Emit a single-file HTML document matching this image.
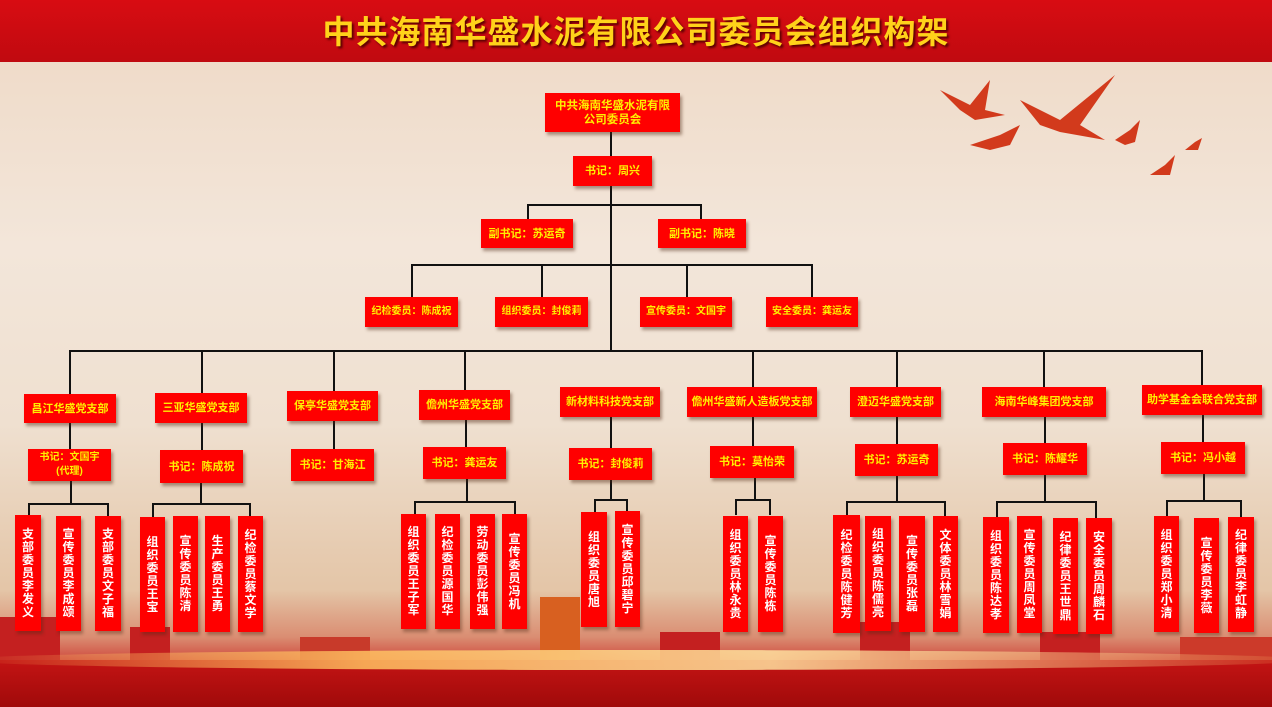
<!DOCTYPE html>
<html><head><meta charset="utf-8"><style>
*{margin:0;padding:0;box-sizing:border-box}
body{width:1272px;height:707px;overflow:hidden;position:relative;font-family:"Liberation Sans","Noto Sans CJK SC",sans-serif;background:linear-gradient(180deg,#eed8c4 0%,#f3e6da 35%,#efe0d0 60%,#e6cbb0 78%,#ddb58e 100%)}
.title{position:absolute;left:0;top:0;width:1272px;height:62px;background:linear-gradient(180deg,#d80c12,#c00a10);color:#ffd21a;font-size:32px;font-weight:bold;text-align:center;line-height:64px;letter-spacing:1px;text-shadow:2px 2px 2px #5a0000}
.b{position:absolute;background:#ff0000;color:#ffef00;font-size:11px;font-weight:bold;display:flex;align-items:center;justify-content:center;text-align:center;line-height:14px;box-shadow:2px 3px 3px rgba(80,40,20,.45)}
.m{position:absolute;background:#ff0000;color:#fff;font-size:12px;font-weight:bold;display:flex;align-items:center;justify-content:center;text-align:center;line-height:13px;box-shadow:2px 3px 3px rgba(80,40,20,.4);padding:0 6px;word-break:break-all}
.h{position:absolute;height:2px;background:#111}
.v{position:absolute;width:2px;background:#111}
.c{position:absolute;bottom:0;background:#c42020}
</style></head><body>
<div class="title">中共海南华盛水泥有限公司委员会组织构架</div>
<!-- background decoration -->
<div style="position:absolute;left:0;top:590px;width:1272px;height:117px;background:linear-gradient(180deg,rgba(205,60,40,0),rgba(205,50,35,.35) 40%,#c81a1a 75%,#b01010)"></div>
<div class="c" style="left:0;width:60px;height:90px"></div>
<div class="c" style="left:130px;width:40px;height:80px"></div>
<div class="c" style="left:300px;width:70px;height:70px;background:#c83a2a"></div>
<div class="c" style="left:540px;width:40px;height:110px;background:#d86020"></div>
<div class="c" style="left:660px;width:60px;height:75px"></div>
<div class="c" style="left:860px;width:50px;height:85px"></div>
<div class="c" style="left:1040px;width:60px;height:75px"></div>
<div class="c" style="left:1180px;width:92px;height:70px;background:#cc3a2a"></div>
<div style="position:absolute;left:0;top:660px;width:1272px;height:47px;background:linear-gradient(180deg,#c41414,#a00a0a)"></div>
<div style="position:absolute;left:-40px;top:650px;width:1350px;height:20px;background:linear-gradient(90deg,rgba(255,200,80,0),#ffc060 30%,#ffe2a0 60%,rgba(255,200,80,.1));border-radius:50%;opacity:.85"></div>
<svg style="position:absolute;left:930px;top:70px" width="280" height="120" viewBox="0 0 280 120">
<g fill="#d23a1c"><path d="M10 20 L40 35 L60 10 L55 40 L75 45 L45 50 L30 40Z"/><path d="M90 30 L130 50 L185 5 L150 55 L175 70 L130 62 L110 55Z"/><path d="M40 75 L70 65 L90 55 L80 75 L60 80Z"/><path d="M185 70 L200 60 L210 50 L205 72 L195 75Z"/><path d="M220 105 L235 95 L245 85 L240 105Z"/><path d="M255 80 L265 72 L272 68 L268 80Z"/></g></svg>

<!-- top lines -->
<div class="v" style="left:610px;top:132px;height:220px"></div>
<div class="h" style="left:527px;top:204px;width:175px"></div>
<div class="v" style="left:527px;top:204px;height:16px"></div>
<div class="v" style="left:700px;top:204px;height:16px"></div>
<div class="h" style="left:411px;top:264px;width:402px"></div>
<div class="v" style="left:411px;top:264px;height:34px"></div>
<div class="v" style="left:541px;top:264px;height:34px"></div>
<div class="v" style="left:686px;top:264px;height:34px"></div>
<div class="v" style="left:811px;top:264px;height:34px"></div>
<div class="h" style="left:69px;top:350px;width:1134px"></div>

<div class="b" style="left:545px;top:93px;width:135px;height:39px;font-size:11.5px">中共海南华盛水泥有限<br>公司委员会</div>
<div class="b" style="left:573px;top:156px;width:79px;height:30px">书记：周兴</div>
<div class="b" style="left:481px;top:219px;width:92px;height:29px">副书记：苏运奇</div>
<div class="b" style="left:658px;top:219px;width:88px;height:29px">副书记：陈晓</div>
<div class="b" style="left:365px;top:297px;width:93px;height:30px;font-size:10px">纪检委员：陈成祝</div>
<div class="b" style="left:495px;top:297px;width:93px;height:30px;font-size:10px">组织委员：封俊莉</div>
<div class="b" style="left:640px;top:297px;width:92px;height:30px;font-size:10px">宣传委员：文国宇</div>
<div class="b" style="left:766px;top:297px;width:92px;height:30px;font-size:10px">安全委员：龚运友</div>

<div class="v" style="left:69px;top:350px;height:44px"></div>
<div class="v" style="left:201px;top:350px;height:44px"></div>
<div class="v" style="left:333px;top:350px;height:44px"></div>
<div class="v" style="left:464px;top:350px;height:44px"></div>
<div class="v" style="left:752px;top:350px;height:38px"></div>
<div class="v" style="left:896px;top:350px;height:38px"></div>
<div class="v" style="left:1043px;top:350px;height:38px"></div>
<div class="v" style="left:1201px;top:350px;height:36px"></div>

<div class="v" style="left:69px;top:423px;height:27px"></div>
<div class="v" style="left:201px;top:423px;height:28px"></div>
<div class="v" style="left:333px;top:420px;height:30px"></div>
<div class="v" style="left:465px;top:420px;height:28px"></div>
<div class="v" style="left:610px;top:417px;height:32px"></div>
<div class="v" style="left:752px;top:417px;height:30px"></div>
<div class="v" style="left:896px;top:417px;height:28px"></div>
<div class="v" style="left:1044px;top:417px;height:27px"></div>
<div class="v" style="left:1202px;top:415px;height:28px"></div>

<div class="v" style="left:70px;top:481px;height:22px"></div><div class="h" style="left:28px;top:503px;width:81px"></div>
<div class="v" style="left:28px;top:503px;height:13px"></div><div class="v" style="left:107px;top:503px;height:13px"></div>
<div class="v" style="left:200px;top:483px;height:21px"></div><div class="h" style="left:152px;top:503px;width:99px"></div>
<div class="v" style="left:152px;top:503px;height:14px"></div><div class="v" style="left:249px;top:503px;height:14px"></div>
<div class="v" style="left:466px;top:479px;height:23px"></div><div class="h" style="left:414px;top:501px;width:102px"></div>
<div class="v" style="left:414px;top:501px;height:14px"></div><div class="v" style="left:514px;top:501px;height:14px"></div>
<div class="v" style="left:610px;top:480px;height:20px"></div><div class="h" style="left:594px;top:499px;width:34px"></div>
<div class="v" style="left:594px;top:499px;height:13px"></div><div class="v" style="left:626px;top:499px;height:13px"></div>
<div class="v" style="left:754px;top:478px;height:22px"></div><div class="h" style="left:735px;top:499px;width:36px"></div>
<div class="v" style="left:735px;top:499px;height:16px"></div><div class="v" style="left:769px;top:499px;height:16px"></div>
<div class="v" style="left:896px;top:476px;height:26px"></div><div class="h" style="left:846px;top:501px;width:100px"></div>
<div class="v" style="left:846px;top:501px;height:15px"></div><div class="v" style="left:944px;top:501px;height:15px"></div>
<div class="v" style="left:1044px;top:475px;height:27px"></div><div class="h" style="left:996px;top:501px;width:101px"></div>
<div class="v" style="left:996px;top:501px;height:17px"></div><div class="v" style="left:1095px;top:501px;height:17px"></div>
<div class="v" style="left:1203px;top:474px;height:27px"></div><div class="h" style="left:1166px;top:500px;width:76px"></div>
<div class="v" style="left:1166px;top:500px;height:17px"></div><div class="v" style="left:1240px;top:500px;height:17px"></div>

<div class="b" style="left:24px;top:394px;width:92px;height:29px">昌江华盛党支部</div>
<div class="b" style="left:155px;top:393px;width:92px;height:30px">三亚华盛党支部</div>
<div class="b" style="left:287px;top:391px;width:91px;height:30px">保亭华盛党支部</div>
<div class="b" style="left:419px;top:390px;width:91px;height:30px">儋州华盛党支部</div>
<div class="b" style="left:560px;top:387px;width:100px;height:30px">新材料科技党支部</div>
<div class="b" style="left:687px;top:387px;width:130px;height:30px">儋州华盛新人造板党支部</div>
<div class="b" style="left:850px;top:387px;width:91px;height:30px">澄迈华盛党支部</div>
<div class="b" style="left:982px;top:387px;width:124px;height:30px">海南华峰集团党支部</div>
<div class="b" style="left:1142px;top:385px;width:120px;height:30px">助学基金会联合党支部</div>

<div class="b" style="left:28px;top:449px;width:83px;height:32px;font-size:10px">书记：文国宇<br>(代理)</div>
<div class="b" style="left:160px;top:450px;width:83px;height:33px">书记：陈成祝</div>
<div class="b" style="left:291px;top:449px;width:83px;height:32px">书记：甘海江</div>
<div class="b" style="left:423px;top:447px;width:83px;height:32px">书记：龚运友</div>
<div class="b" style="left:569px;top:448px;width:83px;height:32px">书记：封俊莉</div>
<div class="b" style="left:710px;top:446px;width:84px;height:32px">书记：莫怡荣</div>
<div class="b" style="left:855px;top:444px;width:83px;height:32px">书记：苏运奇</div>
<div class="b" style="left:1003px;top:443px;width:84px;height:32px">书记：陈耀华</div>
<div class="b" style="left:1161px;top:442px;width:84px;height:32px">书记：冯小越</div>

<div class="m" style="left:15px;top:515px;width:26px;height:116px">支部委员李发义</div>
<div class="m" style="left:56px;top:516px;width:25px;height:115px">宣传委员李成颂</div>
<div class="m" style="left:95px;top:516px;width:26px;height:115px">支部委员文子福</div>
<div class="m" style="left:140px;top:517px;width:25px;height:115px">组织委员王宝</div>
<div class="m" style="left:173px;top:516px;width:25px;height:116px">宣传委员陈清</div>
<div class="m" style="left:205px;top:516px;width:25px;height:116px">生产委员王勇</div>
<div class="m" style="left:238px;top:516px;width:25px;height:116px">纪检委员蔡文学</div>
<div class="m" style="left:401px;top:514px;width:25px;height:115px">组织委员王子军</div>
<div class="m" style="left:435px;top:514px;width:25px;height:115px">纪检委员源国华</div>
<div class="m" style="left:470px;top:514px;width:25px;height:115px">劳动委员彭伟强</div>
<div class="m" style="left:502px;top:514px;width:25px;height:115px">宣传委员冯机</div>
<div class="m" style="left:581px;top:512px;width:26px;height:115px">组织委员唐旭</div>
<div class="m" style="left:615px;top:511px;width:25px;height:116px">宣传委员邱碧宁</div>
<div class="m" style="left:723px;top:516px;width:25px;height:116px">组织委员林永贵</div>
<div class="m" style="left:758px;top:516px;width:25px;height:116px">宣传委员陈栋</div>
<div class="m" style="left:833px;top:515px;width:27px;height:118px">纪检委员陈健芳</div>
<div class="m" style="left:865px;top:516px;width:26px;height:115px">组织委员陈儒亮</div>
<div class="m" style="left:899px;top:516px;width:26px;height:116px">宣传委员张磊</div>
<div class="m" style="left:933px;top:516px;width:25px;height:116px">文体委员林雪娟</div>
<div class="m" style="left:983px;top:517px;width:26px;height:116px">组织委员陈达孝</div>
<div class="m" style="left:1017px;top:516px;width:25px;height:117px">宣传委员周凤堂</div>
<div class="m" style="left:1053px;top:518px;width:25px;height:116px">纪律委员王世鼎</div>
<div class="m" style="left:1086px;top:518px;width:26px;height:116px">安全委员周麟石</div>
<div class="m" style="left:1154px;top:516px;width:25px;height:116px">组织委员郑小清</div>
<div class="m" style="left:1194px;top:518px;width:25px;height:115px">宣传委员李薇</div>
<div class="m" style="left:1228px;top:517px;width:26px;height:115px">纪律委员李虹静</div>
</body></html>
